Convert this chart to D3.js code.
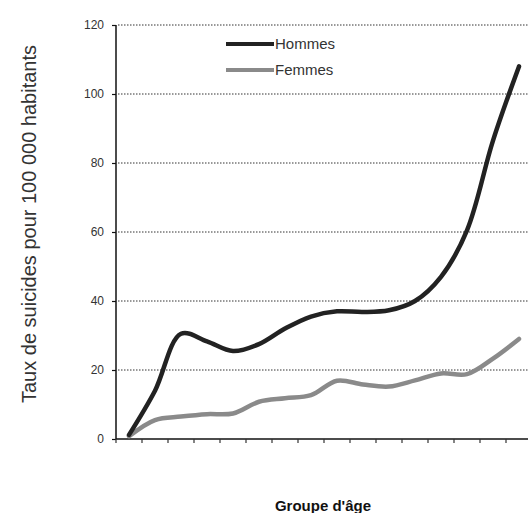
<!DOCTYPE html>
<html>
<head>
<meta charset="utf-8">
<script src="https://cdn.jsdelivr.net/npm/d3@7"></script>
<style>
  html, body { margin: 0; padding: 0; background: #fff; }
  svg { display: block; font-family: "Liberation Sans", Arial, Helvetica, sans-serif; }
</style>
</head>
<body>
<svg id="chart" width="528" height="513"></svg>
<script>
const categories = ["10-14","15-19","20-24","25-29","30-34","35-39","40-44","45-49","50-54","55-59","60-64","65-69","70-74","75-79","80-84","85+"];
const hommes = [1.2, 14, 30.5, 28.3, 25.5, 27.5, 32, 35.5, 37, 36.8, 37.3, 40, 47, 60.5, 86.5, 108];
const femmes = [0.8, 5.5, 6.5, 7.2, 7.4, 10.8, 11.8, 12.7, 16.9, 15.8, 15.2, 17, 19, 18.8, 23.3, 29];
const yTicks = [0, 20, 40, 60, 80, 100, 120];
const seriesNames = ["Hommes", "Femmes"];

(function () {
const svg = d3.select("#chart");
const pLeft = 116, pRight = 532, pTop = 25, pBottom = 439;

const x = d3.scaleBand().domain(categories).range([pLeft, pRight]).paddingInner(0).paddingOuter(0);
const y = d3.scaleLinear().domain([0, 120]).range([pBottom, pTop]);

// gridlines
svg.append("g").selectAll("line").data(yTicks.filter(d => d > 0)).join("line")
  .attr("x1", pLeft + 2).attr("x2", 528)
  .attr("y1", d => y(d)).attr("y2", d => y(d))
  .attr("stroke", "#333").attr("stroke-width", 1).attr("stroke-dasharray", "1.5,1.5");

// y axis
const yAxis = svg.append("g").attr("transform", `translate(${pLeft},0)`)
  .call(d3.axisLeft(y).tickValues(yTicks).tickSize(4).tickPadding(8).tickFormat(d3.format("d")));
yAxis.select(".domain").attr("stroke", "#111").attr("stroke-width", 1.5).attr("d", `M0,${pTop}V${pBottom}`);
yAxis.selectAll(".tick line").attr("stroke", "#111").attr("stroke-width", 1.2);
yAxis.selectAll("text").attr("font-size", 12).attr("fill", "#333")
  .attr("font-family", "'Liberation Sans', Arial, sans-serif");

// x axis (ticks between categories)
const xAxis = svg.append("g").attr("transform", `translate(0,${pBottom})`)
  .call(d3.axisBottom(x).tickSize(4).tickFormat(""));
xAxis.selectAll(".tick").attr("transform", d => `translate(${x(d)},0)`);
xAxis.select(".domain").attr("stroke", "#111").attr("stroke-width", 1.5).attr("d", `M${pLeft},0H528`);
xAxis.selectAll(".tick line").attr("stroke", "#333").attr("stroke-width", 1.2);

// lines
const cx = d => x(d) + x.bandwidth() / 2;
const line = d3.line().x((d, i) => cx(categories[i])).y(d => y(d)).curve(d3.curveCatmullRom.alpha(0.5));

svg.append("path").datum(femmes).attr("d", line)
  .attr("fill", "none").attr("stroke", "#8a8a8a").attr("stroke-width", 4.5)
  .attr("stroke-linejoin", "round").attr("stroke-linecap", "round");
svg.append("path").datum(hommes).attr("d", line)
  .attr("fill", "none").attr("stroke", "#222").attr("stroke-width", 4.5)
  .attr("stroke-linejoin", "round").attr("stroke-linecap", "round");

// legend
const legendColors = ["#222", "#8a8a8a"];
const lg = svg.append("g");
seriesNames.forEach((name, i) => {
  const ly = 44 + i * 26;
  lg.append("line").attr("x1", 226).attr("x2", 274).attr("y1", ly).attr("y2", ly)
    .attr("stroke", legendColors[i]).attr("stroke-width", 4);
  lg.append("text").attr("x", 275).attr("y", ly + 5).text(name)
    .attr("font-size", 15).attr("fill", "#333");
});

// axis titles
svg.append("text")
  .attr("transform", "translate(36,224) rotate(-90)")
  .attr("text-anchor", "middle")
  .attr("font-size", 20).attr("fill", "#333")
  .text("Taux de suicides pour 100 000 habitants");

svg.append("text")
  .attr("x", 323).attr("y", 511)
  .attr("text-anchor", "middle")
  .attr("font-size", 15).attr("font-weight", "bold").attr("fill", "#111")
  .text("Groupe d'âge");
})();
</script>
</body>
</html>
